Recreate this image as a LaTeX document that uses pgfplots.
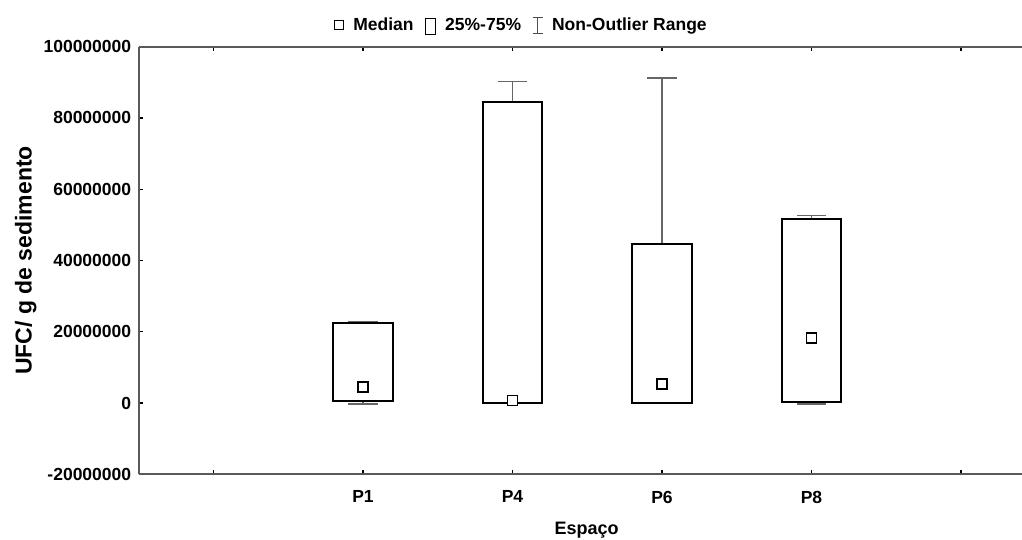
\documentclass[border=0pt]{standalone}
\usepackage{pgfplots}
\pgfplotsset{compat=1.18}
\usepgfplotslibrary{statistics}
\usepackage{fontspec}
\setmainfont{Liberation Sans}
\begin{document}
\begin{tikzpicture}
\path[use as bounding box] (-138.7pt,-64.7pt) rectangle (883.3pt,474.3pt);
\begin{axis}[
  at={(0pt,0pt)}, anchor=south west,
  scale only axis, width=883.3pt, height=427.6pt,
  xmin=-0.5, xmax=5.408, ymin=-20000000, ymax=100000000,
  axis x line*=box, axis y line*=left,
  axis line style={draw=black!65, line width=2pt},
  x axis line style={-}, y axis line style={-},
  xtick={0,1,2,3,4,5}, xticklabels={,P1,P4,P6,P8,},
  ytick={-20000000,0,20000000,40000000,60000000,80000000,100000000},
  yticklabels={-20000000,0,20000000,40000000,60000000,80000000,100000000},
  scaled y ticks=false,
  tick align=inside, major tick length=4pt,
  major tick style={black, line width=1.3pt},
  tick label style={font=\fontsize{17.5}{20}\selectfont\bfseries},
  xticklabel style={yshift=-13pt},
  yticklabel style={xshift=-4pt},
  xlabel={Espaço}, ylabel={UFC/ g de sedimento},
  xlabel style={at={(axis description cs:0.507,-0.1116)}, anchor=north, inner sep=0pt, font=\fontsize{18}{20}\selectfont\bfseries},
  ylabel style={at={(axis description cs:-0.1211,0.5)}, anchor=base, inner sep=0pt, rotate=0, font=\fontsize{23}{26}\selectfont\bfseries},
  boxplot/draw direction=y,
  boxplot/box extend=0.4,
  boxplot/whisker extend=0.2,
  boxplot/every box/.style={draw=black, line width=2pt, fill=white},
  boxplot/every whisker/.style={draw=black!60, line width=1.5pt},
  boxplot/draw/median/.code={},
  legend style={draw=none, fill=none, at={(axis description cs:0.4334,1.049)}, anchor=center,
    font=\fontsize{17.5}{20}\selectfont\bfseries, inner sep=0pt,
    /tikz/every odd column/.append style={column sep=7pt},
    /tikz/every even column/.append style={column sep=9pt}},
  legend columns=-1,
]
% P1
\addplot+[forget plot, black, boxplot prepared={draw position=1, lower whisker=-200000, lower quartile=560000, median=4500000, upper quartile=22600000, upper whisker=22800000}] coordinates {};
% P4
\addplot+[forget plot, black, boxplot prepared={draw position=2, lower whisker=-100000, lower quartile=0, median=760000, upper quartile=84500000, upper whisker=90200000}] coordinates {};
% P6
\addplot+[forget plot, black, boxplot prepared={draw position=3, lower whisker=-100000, lower quartile=0, median=5400000, upper quartile=44500000, upper whisker=91200000}] coordinates {};
% P8
\addplot+[forget plot, black, boxplot prepared={draw position=4, lower whisker=-300000, lower quartile=360000, median=18300000, upper quartile=51600000, upper whisker=52600000}] coordinates {};
% medians
\addplot[forget plot, only marks, mark=square*, mark size=5pt, mark options={fill=white, draw=black, line width=1.6pt}]
  coordinates {(1,4500000) (2,760000) (3,5400000) (4,18300000)};
\addlegendimage{legend image code/.code={\draw[black, line width=1pt, fill=white] (0pt,-4.5pt) rectangle (9pt,4.5pt);}}
\addlegendentry{Median}
\addlegendimage{legend image code/.code={\draw[black, line width=1.6pt] (0pt,-9pt) rectangle (10pt,7pt);}}
\addlegendentry{25\%-75\%}
\addlegendimage{legend image code/.code={\draw[black!70, line width=1pt] (5pt,-8pt)--(5pt,8pt) (0pt,8pt)--(10pt,8pt) (0pt,-8pt)--(10pt,-8pt);}}
\addlegendentry{Non-Outlier Range}
\end{axis}
\end{tikzpicture}
\end{document}
